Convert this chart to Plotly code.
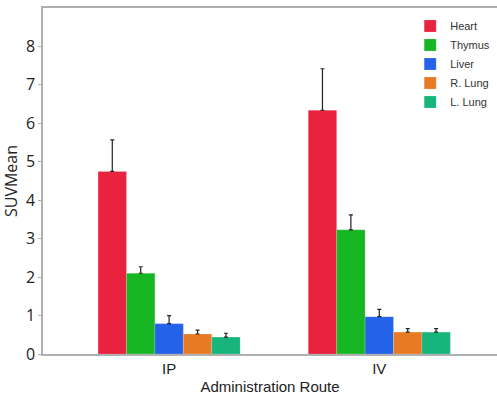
import plotly.graph_objects as go

routes = ["IP", "IV"]
organs = ["Heart", "Thymus", "Liver", "R. Lung", "L. Lung"]
colors = ["#E8223F", "#16B723", "#2562EA", "#E77A22", "#17B57C"]
means = {
    "Heart": [4.75, 6.34],
    "Thymus": [2.10, 3.23],
    "Liver": [0.79, 0.97],
    "R. Lung": [0.52, 0.57],
    "L. Lung": [0.44, 0.57],
}
errors = {
    "Heart": [0.82, 1.08],
    "Thymus": [0.17, 0.39],
    "Liver": [0.21, 0.19],
    "R. Lung": [0.10, 0.09],
    "L. Lung": [0.10, 0.09],
}
y_ticks = [0, 1, 2, 3, 4, 5, 6, 7, 8]

fig = go.Figure()
for organ, col in zip(organs, colors):
    fig.add_trace(go.Bar(
        name=organ, x=routes, y=means[organ],
        marker=dict(color=col, line=dict(color="rgba(255,255,255,0.35)", width=0.5)),
        error_y=dict(type="data", array=errors[organ], arrayminus=[0, 0],
                     symmetric=False, color="#222222", thickness=1.2, width=2),
    ))

fig.update_layout(
    width=497, height=398,
    margin=dict(l=43, r=0, t=8, b=44, autoexpand=False),
    paper_bgcolor="white", plot_bgcolor="white",
    barmode="group", bargap=0.324, bargroupgap=0,
    font=dict(family="Liberation Sans, Arial, sans-serif", color="#222222"),
    showlegend=True,
    legend=dict(x=0.996, y=0.99, xanchor="right", yanchor="top",
                font=dict(size=11, color="#333333"), tracegroupgap=0,
                itemwidth=30, bgcolor="rgba(0,0,0,0)"),
    xaxis=dict(type="category", range=[-0.6, 1.56], showline=True, mirror=True,
               linecolor="#b0b0b0", linewidth=1.5, ticks="",
               tickfont=dict(size=15, color="#222222"),
               title=dict(text="Administration Route", font=dict(size=15, color="#222222"),
                          standoff=6)),
    yaxis=dict(range=[0, 9], tickvals=y_ticks, showline=True, linecolor="#b0b0b0",
               linewidth=1.5, ticks="outside", ticklen=3, tickcolor="#b0b0b0",
               showgrid=False, zeroline=False,
               tickfont=dict(family="Open Sans, Noto Sans, sans-serif", size=16, color="#222222"),
               title=dict(text="SUVMean", font=dict(family="Open Sans, Noto Sans, sans-serif",
                                                     size=16, color="#222222"), standoff=4)),
)

fig.write_html("out.html", config={"displayModeBar": False},
               post_script="document.body.style.margin='0px';document.body.style.overflow='hidden';")
